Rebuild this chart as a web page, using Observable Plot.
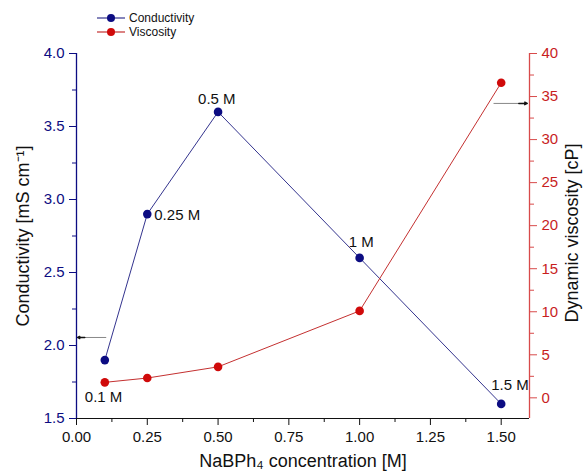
<!DOCTYPE html>
<html>
<head>
<meta charset="utf-8">
<script src="https://cdn.jsdelivr.net/npm/d3@7"></script>
<script src="https://cdn.jsdelivr.net/npm/@observablehq/plot@0.6"></script>
<style>
  html, body { margin: 0; padding: 0; background: #fff; }
  #wrap { position: relative; width: 584px; height: 476px; font-family: "Liberation Sans", Arial, sans-serif; }
  #legend { position: absolute; left: 97px; top: 11px; font-size: 12px; color: #111; line-height: 14px; }
  #legend .row { display: flex; align-items: center; height: 14px; }
  #legend svg { margin-right: 4px; }
</style>
</head>
<body>
<div id="wrap">
  <div id="legend"></div>
</div>
<script>
// ---- data ----
const concentration = [0.1, 0.25, 0.5, 1.0, 1.5];
const conductivity = [1.9, 2.9, 3.6, 2.6, 1.6];
const viscosity = [1.8, 2.3, 3.6, 10.1, 36.6];
const pointLabels = ["0.1 M", "0.25 M", "0.5 M", "1 M", "1.5 M"];
const xTicks = [0, 0.25, 0.5, 0.75, 1.0, 1.25, 1.5];
const leftTicks = [1.5, 2.0, 2.5, 3.0, 3.5, 4.0];
const rightTicks = [0, 5, 10, 15, 20, 25, 30, 35, 40];
const seriesNames = ["Conductivity", "Viscosity"];
// arrows (axis indicators)
const arrowData = [
  {x1: 0.105, x2: 0.004, v: 2.055, axis: "left"},
  {x1: 1.473, x2: 1.592, v: 34.2, axis: "right"}
];

// ---- scales ----
const xDomain = [0, 1.6];
const cDomain = [1.5, 4.0];
const vDomain = [-2.4, 40];
const v2c = v => cDomain[0] + (v - vDomain[0]) * (cDomain[1] - cDomain[0]) / (vDomain[1] - vDomain[0]);
const c2v = c => vDomain[0] + (c - cDomain[0]) * (vDomain[1] - vDomain[0]) / (cDomain[1] - cDomain[0]);

const NAVY = "#0c0c82";
const NAVY_LINE = "#34348e";
const RED = "#d00a0a";
const RED_LINE = "#c43030";
const RED_AXIS = "#d84a4a";
const RED_TEXT = "#c81e1e";
const FONT = "Liberation Sans, Arial, sans-serif";

const cData = concentration.map((x, i) => ({x, y: conductivity[i], label: pointLabels[i]}));
const vData = concentration.map((x, i) => ({x, y: v2c(viscosity[i])}));

const offsets = {
  "0.1 M": [-20, 37],
  "0.25 M": [7, 1],
  "0.5 M": [-20, -13],
  "1 M": [-11, -16],
  "1.5 M": [-10, -19]
};

const minorX = d3.range(0.125, 1.6, 0.25);
const minorL = d3.range(1.75, 4.0, 0.5);
const minorR = d3.range(2.5, 40, 5);
const ay = d => d.axis === "left" ? d.v : v2c(d.v);

const chart = Plot.plot({
  width: 584,
  height: 476,
  marginLeft: 76,
  marginRight: 55,
  marginTop: 53,
  marginBottom: 58,
  style: {fontFamily: FONT, fontSize: "15px", background: "transparent", overflow: "visible"},
  x: {domain: xDomain, axis: null},
  y: {domain: cDomain, axis: null},
  marks: [
    // axis lines
    Plot.ruleX([xDomain[0]], {stroke: NAVY, strokeWidth: 1.3}),
    Plot.ruleX([xDomain[1]], {stroke: RED_AXIS, strokeWidth: 1.3}),
    Plot.ruleY([cDomain[0]], {stroke: "#111", strokeWidth: 1.2}),
    // bottom axis
    Plot.axisX({ticks: xTicks, tickSize: 7, tickPadding: 6, tickFormat: d3.format(".2f"), label: null, color: "#111", fontSize: 15}),
    Plot.axisX({ticks: minorX, tickSize: 4, tickFormat: () => "", label: null, color: "#111"}),
    // left axis
    Plot.axisY({ticks: leftTicks, tickSize: 7, tickPadding: 5, tickFormat: d3.format(".1f"), label: null, color: NAVY, fontSize: 15}),
    Plot.axisY({ticks: minorL, tickSize: 4, tickFormat: () => "", label: null, color: NAVY}),
    // right axis
    Plot.axisY({anchor: "right", ticks: rightTicks.map(v2c), tickSize: 7, tickPadding: 5, tickFormat: d => String(Math.round(c2v(d))), label: null, color: RED_AXIS, fill: RED_TEXT, fontSize: 15}),
    Plot.axisY({anchor: "right", ticks: minorR.map(v2c), tickSize: 4, tickFormat: () => "", label: null, color: RED_AXIS}),
    // axis titles
    Plot.text(["NaBPh\u2084 concentration [M]"], {frameAnchor: "bottom", textAnchor: "middle", dy: 48, fontSize: 18, fill: "#111"}),
    Plot.text(["Conductivity [mS cm\u207B\u00B9]"], {frameAnchor: "left", textAnchor: "middle", dx: -53, dy: 0, rotate: -90, fontSize: 18, fill: "#111"}),
    Plot.text(["Dynamic viscosity [cP]"], {frameAnchor: "right", textAnchor: "middle", dx: 43, dy: -3, rotate: -90, fontSize: 18, fill: "#111"}),
    // series
    Plot.line(cData, {x: "x", y: "y", stroke: NAVY_LINE, strokeWidth: 1}),
    Plot.line(vData, {x: "x", y: "y", stroke: RED_LINE, strokeWidth: 1}),
    Plot.dot(cData, {x: "x", y: "y", r: 4.3, fill: NAVY}),
    Plot.dot(vData, {x: "x", y: "y", r: 4.3, fill: RED}),
    // point labels
    ...cData.map(d => Plot.text([d], {x: "x", y: "y", text: "label", textAnchor: "start", dx: offsets[d.label][0], dy: offsets[d.label][1], fontSize: 15, fill: "#111"})),
    // arrows: gray shaft, dark head
    Plot.link(arrowData, {x1: "x1", x2: "x2", y1: ay, y2: ay, stroke: "#888", strokeWidth: 1}),
    Plot.arrow(arrowData, {x1: d => d.x2 + (d.x1 - d.x2) * 0.25, x2: "x2", y1: ay, y2: ay, stroke: "#111", strokeWidth: 1.4, headLength: 7, headAngle: 55})
  ]
});

document.getElementById("wrap").appendChild(chart);

// legend
const legend = d3.select("#legend");
const legendColors = [[NAVY_LINE, NAVY], [RED_LINE, RED]];
seriesNames.forEach((name, i) => {
  const row = legend.append("div").attr("class", "row");
  const sw = row.append("svg").attr("width", 28).attr("height", 14);
  sw.append("line").attr("x1", 0).attr("x2", 28).attr("y1", 7).attr("y2", 7).attr("stroke", legendColors[i][0]).attr("stroke-width", 1.2);
  sw.append("circle").attr("cx", 14).attr("cy", 7).attr("r", 4).attr("fill", legendColors[i][1]);
  row.append("span").text(name);
});
</script>
</body>
</html>
